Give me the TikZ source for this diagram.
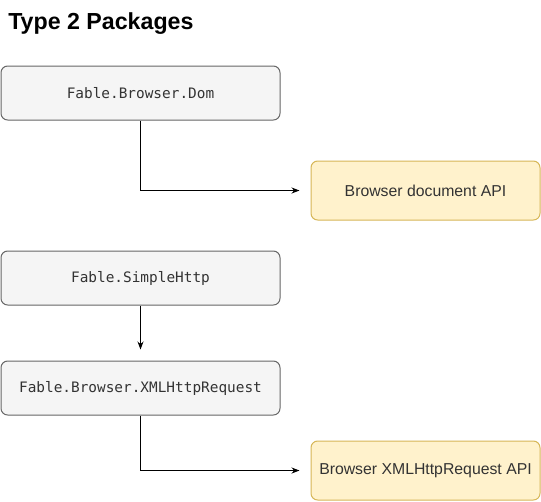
\documentclass[tikz,border=0pt]{standalone}
\usepackage{fontspec}
\setmainfont{Liberation Sans}
\newfontfamily\codefont{DejaVu Sans Mono}
\usetikzlibrary{arrows.meta,positioning}

\definecolor{pkgfill}{HTML}{F5F5F5}
\definecolor{pkgline}{HTML}{666666}
\definecolor{pkgtext}{HTML}{333333}
\definecolor{apifill}{HTML}{FFF2CC}
\definecolor{apiline}{HTML}{D6B656}

\begin{document}
\begin{tikzpicture}[x=0.75pt,y=-0.75pt,>={Stealth[length=6pt,width=4.5pt]},
    pkg/.style={draw=pkgline,fill=pkgfill,text=pkgtext,line width=0.75pt,rounded corners=5pt,
      minimum width=209.25pt,minimum height=40.5pt,inner sep=0pt,
      font=\codefont\fontsize{10.8}{13}\selectfont},
    api/.style={draw=apiline,fill=apifill,text=pkgtext,line width=0.75pt,rounded corners=5pt,
      minimum width=171.75pt,minimum height=44.25pt,inner sep=0pt,
      font=\fontsize{11.85}{14}\selectfont},
    link/.style={->,line width=0.75pt,shorten >=8.25pt}]
  \useasboundingbox (0,0) rectangle (541,501);

  % title
  \node[anchor=base west,inner sep=0pt,font=\bfseries\fontsize{17.4}{20}\selectfont]
    (title) at (8,29.5) {Type 2 Packages};

  % packages
  \node[pkg] (dom) at (140.5,93) {Fable.Browser.Dom};
  \node[pkg] (simplehttp) at (140.5,278) {Fable.SimpleHttp};
  \node[pkg] (xhr) at (140.5,388) {Fable.Browser.XMLHttpRequest};

  % browser APIs
  \node[api] (docapi) at (425.5,190.5) {Browser document API};
  \node[api] (xhrapi) at (425.5,470.5) {Browser XMLHttpRequest API};

  % links
  \draw[link] (dom.south) |- (docapi.west);
  \draw[link] (simplehttp.south) -- (xhr.north);
  \draw[link] (xhr.south) |- (xhrapi.west);
\end{tikzpicture}
\end{document}
